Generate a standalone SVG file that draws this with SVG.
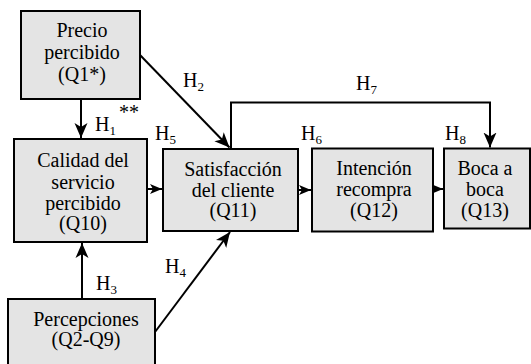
<svg xmlns="http://www.w3.org/2000/svg" width="531" height="364" viewBox="0 0 531 364">
<style>
.box{fill:#e4e4e4;stroke:#000;stroke-width:2}
.t{font-family:"Liberation Serif","Times New Roman",serif;font-size:20px;fill:#000;text-anchor:middle}
.h{font-family:"Liberation Serif","Times New Roman",serif;font-size:20px;fill:#000}
.s{font-size:13px}
.c{fill:none;stroke:#000;stroke-width:2}
</style>
<defs>
<marker id="ah" markerUnits="userSpaceOnUse" markerWidth="16" markerHeight="14" refX="15" refY="7" orient="auto" viewBox="0 0 16 14">
<path d="M0,0.5 L15,7 L0,13.5 L4,7 z" fill="#000"/>
</marker>
<marker id="as" markerUnits="userSpaceOnUse" markerWidth="13" markerHeight="11" refX="12" refY="5.5" orient="auto" viewBox="0 0 13 11">
<path d="M0,0.5 L12,5.5 L0,10.5 L3,5.5 z" fill="#000"/>
</marker>
</defs>
<rect width="531" height="364" fill="#fff"/>
<g id="connectors">
<line class="c" x1="81" y1="99" x2="81" y2="138" marker-end="url(#ah)"/>
<line class="c" x1="140" y1="55" x2="229.5" y2="147.5" marker-end="url(#ah)"/>
<line class="c" x1="82" y1="299" x2="82" y2="243" marker-end="url(#ah)"/>
<line class="c" x1="155" y1="332" x2="230" y2="232" marker-end="url(#ah)"/>
<line class="c" x1="147" y1="189" x2="162" y2="189" marker-end="url(#as)"/>
<line class="c" x1="298" y1="190" x2="311" y2="190" marker-end="url(#as)"/>
<line class="c" x1="433" y1="189" x2="443" y2="189" marker-end="url(#as)"/>
<polyline class="c" points="231,149 231,102.5 490,102.5 490,147.5" marker-end="url(#ah)"/>
</g>
<g id="precio">
<rect class="box" x="21" y="11" width="119" height="88"/>
<text class="t" x="82" y="37">Precio</text>
<text class="t" x="82" y="59">percibido</text>
<text class="t" x="82" y="81">(Q1*)</text>
</g>
<g id="calidad">
<rect class="box" x="14" y="139" width="133" height="103"/>
<text class="t" x="83" y="167">Calidad del</text>
<text class="t" x="83" y="189">servicio</text>
<text class="t" x="83" y="210">percibido</text>
<text class="t" x="83" y="230">(Q10)</text>
</g>
<g id="satisfaccion">
<rect class="box" x="163" y="149" width="135" height="82"/>
<text class="t" x="233" y="176">Satisfacción</text>
<text class="t" x="233" y="197">del cliente</text>
<text class="t" x="233" y="217">(Q11)</text>
</g>
<g id="intencion">
<rect class="box" x="312" y="148.5" width="121" height="83"/>
<text class="t" x="374" y="175">Intención</text>
<text class="t" x="374" y="196">recompra</text>
<text class="t" x="374" y="217">(Q12)</text>
</g>
<g id="boca">
<rect class="box" x="444" y="148.5" width="86" height="80"/>
<text class="t" x="485" y="175">Boca a</text>
<text class="t" x="485" y="196">boca</text>
<text class="t" x="485" y="217">(Q13)</text>
</g>
<g id="percepciones">
<rect class="box" x="8" y="299" width="147" height="75"/>
<text class="t" x="86" y="326">Percepciones</text>
<text class="t" x="86" y="346">(Q2-Q9)</text>
</g>
<g id="labels">
<text class="h" x="95" y="131">H<tspan class="s" dy="3.5">1</tspan></text>
<text class="h" x="119" y="118.5">**</text>
<text class="h" x="183" y="87">H<tspan class="s" dy="3.5">2</tspan></text>
<text class="h" x="96" y="290">H<tspan class="s" dy="3.5">3</tspan></text>
<text class="h" x="165" y="273">H<tspan class="s" dy="3.5">4</tspan></text>
<text class="h" x="155" y="140">H<tspan class="s" dy="3.5">5</tspan></text>
<text class="h" x="301" y="140">H<tspan class="s" dy="3.5">6</tspan></text>
<text class="h" x="356" y="90">H<tspan class="s" dy="3.5">7</tspan></text>
<text class="h" x="445" y="140">H<tspan class="s" dy="3.5">8</tspan></text>
</g>
</svg>
